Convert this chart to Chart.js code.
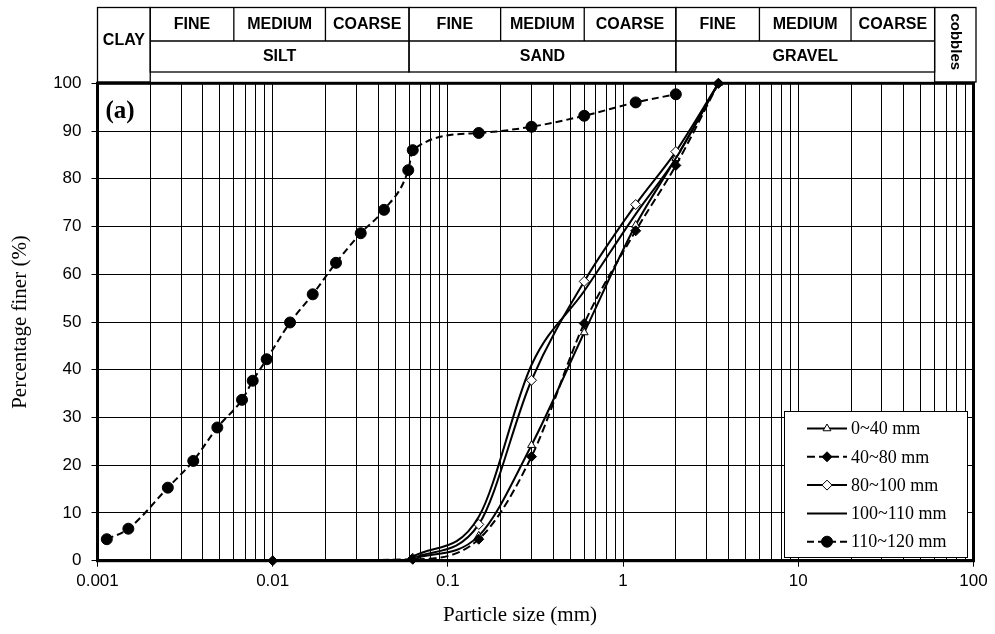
<!DOCTYPE html>
<html>
<head>
<meta charset="utf-8">
<script src="https://cdn.jsdelivr.net/npm/chart.js@4/dist/chart.umd.min.js"></script>
<style>
  html, body { margin: 0; padding: 0; background: #fff; }
  #wrap { width: 995px; height: 634px; }
</style>
</head>
<body>
<div id="wrap"><canvas id="grading" width="995" height="634"></canvas></div>
<script>
// ---- Grading data: particle size (mm) vs percentage finer (%) ----
const sieveSizes     = [0.063, 0.15, 0.3, 0.6, 1.18, 2, 3.5];
const pass0to40      = [0.4, 5.2, 24.2, 47.8, 70.3, 84.3, 100];
const pass80to100    = [0.5, 7.6, 37.8, 58.5, 74.6, 85.7, 100];
const pass100to110   = [0.8, 9.2, 41.0, 56.5, 72.6, 84.3, 100];

const sizes40to80    = [0.01, 0.063, 0.15, 0.3, 0.6, 1.18, 2, 3.5];
const pass40to80     = [0, 0.3, 4.5, 21.8, 49.7, 69.1, 82.8, 100];

const sizes110to120  = [0.00113, 0.0015, 0.00252, 0.00352, 0.00483, 0.00668, 0.00769, 0.00924,
                        0.01256, 0.01692, 0.02298, 0.0318, 0.0432, 0.0594, 0.063,
                        0.15, 0.3, 0.6, 1.18, 2];
const pass110to120   = [4.5, 6.7, 15.3, 20.9, 27.9, 33.7, 37.7, 42.2,
                        49.9, 55.8, 62.4, 68.6, 73.5, 81.8, 86.0,
                        89.6, 90.9, 93.2, 96.0, 97.7];

const seriesNames = ['0~40 mm', '40~80 mm', '80~100 mm', '100~110 mm', '110~120 mm'];

// ---- Axis labels ----
const xTickLabels = ['0.001', '0.01', '0.1', '1', '10', '100'];
const yTickValues = [0, 10, 20, 30, 40, 50, 60, 70, 80, 90, 100];
const xTitle = 'Particle size (mm)';
const yTitle = 'Percentage finer (%)';
const panelTag = '(a)';

// ---- Soil classification bands (mm) ----
const clayLabel = 'CLAY';
const cobblesLabel = 'cobbles';
const subLabels = ['FINE', 'MEDIUM', 'COARSE'];
const groups = [
  { name: 'SILT',   bounds: [0.002, 0.006, 0.02, 0.06] },
  { name: 'SAND',   bounds: [0.06, 0.2, 0.6, 2] },
  { name: 'GRAVEL', bounds: [2, 6, 20, 60] }
];

const pairs = (xs, ys) => xs.map((x, i) => ({ x: x, y: ys[i] }));

// log grid: 1..9 x each decade
const decades = [-3, -2, -1, 0, 1];
const gridValues = [];
decades.forEach(e => { for (let m = 1; m <= 9; m++) gridValues.push(+(m * Math.pow(10, e)).toPrecision(3)); });
gridValues.push(100);
const isDecade = v => Math.abs(Math.log10(v) - Math.round(Math.log10(v))) < 1e-9;

const SERIF = '"Liberation Serif", "Times New Roman", serif';
const SANS = '"Liberation Sans", Arial, sans-serif';

const datasets = [
  { label: seriesNames[0], data: pairs(sieveSizes, pass0to40),
    borderColor: '#000', borderWidth: 2, pointStyle: 'triangle', pointRadius: 4.5,
    pointBackgroundColor: '#fff', pointBorderColor: '#000', pointBorderWidth: 1, order: 4 },
  { label: seriesNames[1], data: pairs(sizes40to80, pass40to80),
    borderColor: '#000', borderWidth: 2, borderDash: [8, 4], pointStyle: 'rectRot', pointRadius: 5,
    pointBackgroundColor: '#000', pointBorderColor: '#000', pointBorderWidth: 1, order: 1 },
  { label: seriesNames[2], data: pairs(sieveSizes, pass80to100),
    borderColor: '#000', borderWidth: 2, pointStyle: 'rectRot', pointRadius: 5,
    pointBackgroundColor: '#fff', pointBorderColor: '#000', pointBorderWidth: 1, order: 3 },
  { label: seriesNames[3], data: pairs(sieveSizes, pass100to110),
    borderColor: '#000', borderWidth: 2, pointRadius: 0, pointStyle: false, order: 2 },
  { label: seriesNames[4], data: pairs(sizes110to120, pass110to120),
    borderColor: '#000', borderWidth: 2, borderDash: [7, 4], pointStyle: 'circle', pointRadius: 5.5,
    pointBackgroundColor: '#000', pointBorderColor: '#000', pointBorderWidth: 1, order: 0 }
];
datasets.forEach(d => {
  d.fill = false;
  d.cubicInterpolationMode = 'monotone';
  d.clip = false;
  d.backgroundColor = d.pointBackgroundColor || '#000';
});

function drawMarker(ctx, ds, x, y) {
  if (!ds.pointRadius) return;
  ctx.save();
  ctx.setLineDash([]);
  ctx.fillStyle = ds.pointBackgroundColor;
  ctx.strokeStyle = ds.pointBorderColor;
  ctx.lineWidth = ds.pointBorderWidth;
  Chart.helpers.drawPoint(ctx, { pointStyle: ds.pointStyle, radius: ds.pointRadius, rotation: 0, borderWidth: ds.pointBorderWidth }, x, y);
  ctx.restore();
}

// Thick frame round the plotting area
const framePlugin = {
  id: 'frame',
  beforeDatasetsDraw(chart) {
    const a = chart.chartArea, ctx = chart.ctx;
    ctx.save();
    ctx.strokeStyle = '#000';
    ctx.lineWidth = 3;
    ctx.strokeRect(a.left, a.top, a.right - a.left, a.bottom - a.top);
    ctx.restore();
  }
};

// Classification table above the plot, panel tag, axis titles, legend box
const decorPlugin = {
  id: 'decor',
  afterDraw(chart) {
    const ctx = chart.ctx, xs = chart.scales.x, a = chart.chartArea;
    const px = v => xs.getPixelForValue(v);
    const top = 7.5, mid = 41, bot = 72, sideBot = 82;
    ctx.save();
    ctx.strokeStyle = '#000';
    ctx.lineWidth = 1.3;
    ctx.fillStyle = '#000';
    ctx.textAlign = 'center';
    ctx.textBaseline = 'middle';

    // CLAY cell
    const clayL = a.left, clayR = px(0.002);
    ctx.strokeRect(clayL, top, clayR - clayL, sideBot - top);
    ctx.font = 'bold 16px ' + SANS;
    ctx.fillText(clayLabel, (clayL + clayR) / 2, 41);

    // SILT / SAND / GRAVEL
    groups.forEach(g => {
      const b = g.bounds.map(px);
      ctx.strokeRect(b[0], top, b[3] - b[0], bot - top);
      ctx.beginPath();
      ctx.moveTo(b[0], mid); ctx.lineTo(b[3], mid);
      for (let i = 1; i < 3; i++) { ctx.moveTo(b[i], top); ctx.lineTo(b[i], mid); }
      ctx.stroke();
      ctx.font = 'bold 16px ' + SANS;
      for (let i = 0; i < 3; i++) ctx.fillText(subLabels[i], (b[i] + b[i + 1]) / 2, 25);
      ctx.fillText(g.name, (b[0] + b[3]) / 2, 57);
    });

    // cobbles cell
    const cobL = px(60), cobR = a.right + 2.5;
    ctx.strokeRect(cobL, top, cobR - cobL, sideBot - top);
    ctx.save();
    ctx.translate((cobL + cobR) / 2, (top + sideBot) / 2 - 3);
    ctx.rotate(Math.PI / 2);
    ctx.font = 'bold 15px ' + SANS;
    ctx.fillText(cobblesLabel, 0, 0);
    ctx.restore();

    // panel tag
    ctx.textAlign = 'left';
    ctx.font = 'bold 25px ' + SERIF;
    ctx.fillText(panelTag, a.left + 8, 112);

    // axis titles
    ctx.textAlign = 'center';
    ctx.font = '21px ' + SERIF;
    ctx.fillText(xTitle, 520, 615);
    ctx.save();
    ctx.translate(20, (a.top + a.bottom) / 2);
    ctx.rotate(-Math.PI / 2);
    ctx.fillText(yTitle, 0, 0);
    ctx.restore();

    // legend
    const lx = 784, ly = 411, lw = 183, lh = 146;
    ctx.fillStyle = '#fff';
    ctx.fillRect(lx, ly, lw, lh);
    ctx.lineWidth = 1;
    ctx.strokeRect(lx + 0.5, ly + 0.5, lw, lh);
    const rowY0 = 428.5, rowStep = 28.3;
    chart.data.datasets.forEach((ds, i) => {
      const y = rowY0 + i * rowStep;
      ctx.save();
      ctx.strokeStyle = '#000';
      ctx.lineWidth = ds.borderWidth;
      ctx.setLineDash(ds.borderDash || []);
      ctx.beginPath();
      ctx.moveTo(807, y); ctx.lineTo(847, y);
      ctx.stroke();
      ctx.restore();
      drawMarker(ctx, ds, 827, y);
      ctx.fillStyle = '#000';
      ctx.textAlign = 'left';
      ctx.font = '18px ' + SERIF;
      ctx.fillText(ds.label, 851, y + 1);
    });
    ctx.restore();
  }
};

new Chart(document.getElementById('grading').getContext('2d'), {
  type: 'line',
  data: { datasets: datasets },
  options: {
    responsive: false,
    animation: false,
    layout: { padding: { top: 83.3, right: 21.5, bottom: 0, left: 0 } },
    plugins: { legend: { display: false }, tooltip: { enabled: false } },
    scales: {
      x: {
        type: 'logarithmic',
        min: 0.001, max: 100,
        afterBuildTicks: s => { s.ticks = gridValues.map(v => ({ value: v, major: isDecade(v) })); },
        afterFit: s => { s.height = 634 - 560.7; },
        ticks: {
          autoSkip: false, maxRotation: 0, minRotation: 0, padding: 4,
          color: '#000', font: { family: SANS, size: 17 },
          callback: v => isDecade(v) ? xTickLabels[Math.round(Math.log10(v)) + 3] : ''
        },
        grid: {
          color: '#000', lineWidth: 1, tickLength: 6,
          tickColor: c => (c.tick && isDecade(c.tick.value)) ? '#000' : 'rgba(0,0,0,0)'
        },
        border: { color: '#000', width: 3 }
      },
      y: {
        min: 0, max: 100,
        afterBuildTicks: s => { s.ticks = yTickValues.map(v => ({ value: v })); },
        afterFit: s => { s.width = 97.5; },
        ticks: { padding: 10, color: '#000', font: { family: SANS, size: 17 } },
        grid: { color: '#000', lineWidth: 1, tickLength: 6, tickColor: '#000' },
        border: { color: '#000', width: 3 }
      }
    }
  },
  plugins: [framePlugin, decorPlugin]
});
</script>
</body>
</html>
